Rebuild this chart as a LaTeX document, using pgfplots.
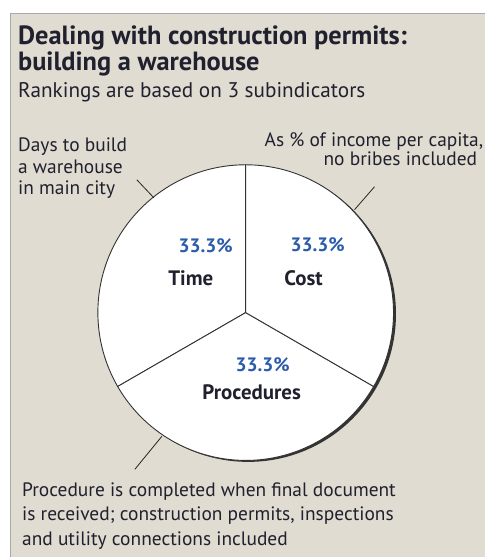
\documentclass[border=0pt]{standalone}
\usepackage{fontspec}
\setmainfont{PT Sans}
\usepackage{pgfplots}
\usepackage{pgfplotstable}
\pgfplotsset{compat=1.18}

\definecolor{bg}{HTML}{E0DCD1}
\definecolor{framegray}{HTML}{A9A9A9}
\definecolor{pctblue}{HTML}{2A5CAA}
\definecolor{txt}{HTML}{20202E}

% shares of the three subindicators (counter-clockwise from 12 o'clock)
\pgfplotstableread{
label value
Time 33.3
Procedures 33.3
Cost 33.3
}\piedata

\pgfplotstablegetelem{0}{value}\of\piedata \let\vA\pgfplotsretval
\pgfplotstablegetelem{1}{value}\of\piedata \let\vB\pgfplotsretval
\pgfplotstablegetelem{2}{value}\of\piedata \let\vC\pgfplotsretval
\pgfmathsetmacro\total{\vA+\vB+\vC}
\pgfmathsetmacro\aA{90}
\pgfmathsetmacro\aB{\aA+360*\vA/\total}
\pgfmathsetmacro\aC{\aB+360*\vB/\total}
\pgfmathsetmacro\aD{\aC+360*\vC/\total}

\newcommand\pct[1]{\pgfmathprintnumber[fixed,fixed zerofill,precision=1,assume math mode=true]{#1}\%}
\newcommand\lbl[1]{\pgfplotstablegetelem{#1}{label}\of\piedata\pgfplotsretval}

\begin{document}
\begin{tikzpicture}
\begin{axis}[
    x=1bp, y=1bp,
    xmin=0, xmax=486, ymin=0, ymax=558,
    y dir=reverse,
    hide axis,
    clip=false,
    title style={},
]
% background and frame
\fill[white] (axis cs:0,0) rectangle (axis cs:486,558);
\fill[bg] (axis cs:10.5,13.5) rectangle (axis cs:486,558);
\draw[framegray, line width=1.5bp] (axis cs:10.5,558) -- (axis cs:10.5,13.5) -- (axis cs:486,13.5);

% title
\tikzset{ttl/.style={anchor=base west, inner sep=0pt, text=txt, font=\bfseries\fontsize{26.5}{30}\selectfont},
         body/.style={anchor=base west, inner sep=0pt, text=txt, font=\fontsize{19.5}{22}\selectfont}}
\node[ttl] at (axis cs:18,45) {Dealing with construction permits:};
\node[ttl] at (axis cs:18,71) {building a warehouse};
\node[anchor=base west, inner sep=0pt, text=txt, font=\fontsize{21.3}{24}\selectfont]
    at (axis cs:18,98) {Rankings are based on 3 subindicators};

% pie shadow and slices
\fill[black!80] (axis cs:248.5,314.5) circle[radius=148bp];
\filldraw[fill=white, draw=black!80, line width=0.9bp]
    (axis cs:246,313) -- ++(\aA:148bp) arc[start angle=\aA, end angle=\aB, radius=148bp] -- cycle;
\filldraw[fill=white, draw=black!80, line width=0.9bp]
    (axis cs:246,313) -- ++(\aB:148bp) arc[start angle=\aB, end angle=\aC, radius=148bp] -- cycle;
\filldraw[fill=white, draw=black!80, line width=0.9bp]
    (axis cs:246,313) -- ++(\aC:148bp) arc[start angle=\aC, end angle=\aD, radius=148bp] -- cycle;

% slice labels
\tikzset{pc/.style={font=\bfseries\fontsize{19.5}{22}\selectfont, text=pctblue},
         nm/.style={font=\bfseries\fontsize{21}{24}\selectfont, text=txt}}
\node[pc] at (axis cs:206,246) {\pct{\vA}};
\node[nm] at (axis cs:191,279) {\lbl{0}};
\node[pc] at (axis cs:318,245) {\pct{\vC}};
\node[nm] at (axis cs:304,279) {\lbl{2}};
\node[pc] at (axis cs:263,365) {\pct{\vB}};
\node[nm] at (axis cs:252,393) {\lbl{1}};

% annotations
\draw[black!85, line width=0.8bp] (axis cs:137,180) -- (axis cs:154,198);
\draw[black!85, line width=0.8bp] (axis cs:375,187) -- (axis cs:355,210);
\draw[black!85, line width=0.8bp] (axis cs:135,470) -- (axis cs:162,437);

\node[body] at (axis cs:18,152) {Days to build};
\node[body] at (axis cs:18,173.5) {a warehouse};
\node[body] at (axis cs:18,195) {in main city};
\node[body, anchor=base east] at (axis cs:484,147) {As \% of income per capita,};
\node[body, anchor=base east] at (axis cs:478,166) {no bribes included};
\node[body] at (axis cs:22,497) {Procedure is completed when final document};
\node[body] at (axis cs:22,521.5) {is received; construction permits, inspections};
\node[body] at (axis cs:22,546) {and utility connections included};
\end{axis}
\end{tikzpicture}
\end{document}
